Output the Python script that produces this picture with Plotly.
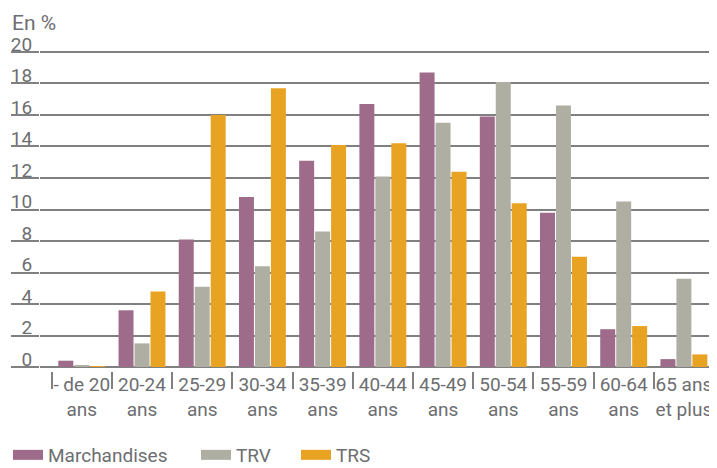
import plotly.graph_objects as go

categories = ["- de 20<br>ans", "20-24<br>ans", "25-29<br>ans", "30-34<br>ans", "35-39<br>ans",
              "40-44<br>ans", "45-49<br>ans", "50-54<br>ans", "55-59<br>ans", "60-64<br>ans",
              "65 ans<br>et plus"]
marchandises = [0.4, 3.6, 8.1, 10.8, 13.1, 16.7, 18.7, 15.9, 9.8, 2.4, 0.5]
trv = [0.1, 1.5, 5.1, 6.4, 8.6, 12.1, 15.5, 18.1, 16.6, 10.5, 5.6]
trs = [0.05, 4.8, 16.0, 17.7, 14.1, 14.2, 12.4, 10.4, 7.0, 2.6, 0.8]
y_ticks = [0, 2, 4, 6, 8, 10, 12, 14, 16, 18, 20]

series = [("Marchandises", marchandises, "#9e6b8a"),
          ("TRV", trv, "#aeafa2"),
          ("TRS", trs, "#e8a323")]

text_col = "#6d6e71"
grid_col = "#808080"
font = "Roboto"

# the page body adds an 8px margin, so the figure is 8px smaller each way
W, H = 709, 460

fig = go.Figure()
legend_x = [-7, 188, 288]
for i, (name, vals, col) in enumerate(series):
    fig.add_trace(go.Bar(x=categories, y=vals, name=name, marker_color=col,
                         marker_line_width=0, showlegend=False))
    # legend entry drawn as a thick line swatch
    lg = "legend" if i == 0 else "legend%d" % (i + 1)
    fig.add_trace(go.Scatter(x=[None], y=[None], mode="lines", name=name,
                             line=dict(color=col, width=15), legend=lg))

legend_common = dict(orientation="h", xref="container", yref="container",
                     xanchor="left", yanchor="middle", y=13 / H,
                     font=dict(family=font, size=19, color=text_col),
                     bgcolor="rgba(0,0,0,0)")

fig.update_layout(
    width=W, height=H,
    margin=dict(l=32, r=3, t=41, b=97, autoexpand=False),
    plot_bgcolor="white", paper_bgcolor="white",
    barmode="group", bargap=0.204, bargroupgap=0.0625,
    font=dict(family=font, size=19, color=text_col),
    xaxis=dict(range=[-0.694, 10.5], showgrid=False, showline=False, zeroline=False,
               ticks="outside", tickson="boundaries", ticklen=17, tickwidth=1.5,
               tickcolor=grid_col, tickangle=0, automargin=False,
               tickfont=dict(size=19, color=text_col)),
    yaxis=dict(range=[-0.254, 20.19], tickvals=y_ticks, showgrid=True, gridcolor=grid_col,
               gridwidth=1.5, zeroline=True, zerolinecolor=grid_col, zerolinewidth=1.5,
               ticks="outside", ticklen=28, tickwidth=1.5, tickcolor=grid_col,
               ticklabelstandoff=-25, ticklabelshift=-8, showline=False, automargin=False,
               tickfont=dict(size=19, color=text_col)),
    legend=dict(legend_common, x=legend_x[0] / W),
    legend2=dict(legend_common, x=legend_x[1] / W),
    legend3=dict(legend_common, x=legend_x[2] / W),
    annotations=[dict(text="En %", xref="paper", yref="paper", x=(2 - 32) / 674,
                      y=(363 - 14.7) / 322, xanchor="left", yanchor="middle",
                      showarrow=False, font=dict(family=font, size=21, color=text_col))],
)

fig.write_html("out.html")
